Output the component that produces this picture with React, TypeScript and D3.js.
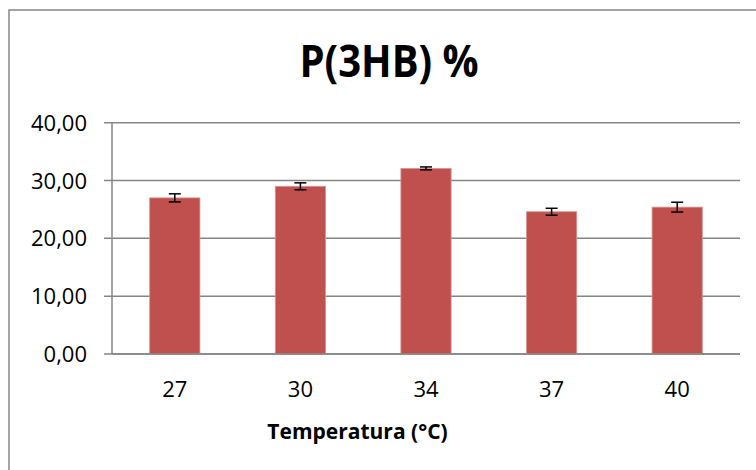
import React from "react";
import * as d3 from "d3";

const categories = ["27", "30", "34", "37", "40"];
const values = [27.0, 29.0, 32.1, 24.6, 25.4];
const errors = [0.7, 0.6, 0.25, 0.6, 0.85];
const yTicks = [0, 10, 20, 30, 40];
const title = "P(3HB) %";
const xTitle = "Temperatura (°C)";

const W = 756;
const H = 470;
const plot = { left: 112, right: 740, top: 122.7, bottom: 354 };

export default function App() {
  const x = d3
    .scaleBand<string>()
    .domain(categories)
    .range([plot.left, plot.right])
    .paddingInner(0.6)
    .paddingOuter(0.3);
  const y = d3.scaleLinear().domain([0, 40]).range([plot.bottom, plot.top]);
  const fmt = (v: number) => d3.format(".2f")(v).replace(".", ",");
  const font = "'Open Sans', sans-serif";
  const cap = 6;
  const titleX = 389;

  return (
    <svg
      width={W}
      height={H}
      style={{ position: "absolute", left: 0, top: 0, background: "#fff" }}
    >
      <rect x={0} y={0} width={W} height={H} fill="#fff" />
      <rect x={9} y={10} width={820} height={520} fill="none" stroke="#868686" strokeWidth={1.5} />
      <text
        x={0}
        y={0}
        transform={`translate(${titleX},77) scale(0.89,1)`}
        textAnchor="middle"
        fontFamily={font}
        fontWeight={700}
        fontSize={45}
        fill="#000"
      >
        {title}
      </text>
      {yTicks.map((t) => (
        <g key={t}>
          <line
            x1={plot.left - 8}
            x2={plot.right}
            y1={y(t)}
            y2={y(t)}
            stroke="#868686"
            strokeWidth={1.5}
          />
          <text
            x={87}
            y={y(t) + 8}
            textAnchor="end"
            fontFamily={font}
            fontSize={22}
            fill="#000"
          >
            {fmt(t)}
          </text>
        </g>
      ))}
      <line
        x1={plot.left}
        x2={plot.left}
        y1={plot.top}
        y2={plot.bottom}
        stroke="#868686"
        strokeWidth={1.5}
      />
      {categories.map((c, i) => {
        const bx = x(c)!;
        const bw = x.bandwidth();
        const cx = bx + bw / 2;
        const v = values[i];
        const e = errors[i];
        return (
          <g key={c}>
            <rect
              x={bx}
              y={y(v)}
              width={bw}
              height={plot.bottom - y(v)}
              fill="#C0504D"
              stroke="#D99694"
              strokeWidth={0.8}
            />
            <line x1={cx} x2={cx} y1={y(v + e)} y2={y(v - e)} stroke="#000" strokeWidth={1.5} />
            <line x1={cx - cap} x2={cx + cap} y1={y(v + e)} y2={y(v + e)} stroke="#000" strokeWidth={1.5} />
            <line x1={cx - cap} x2={cx + cap} y1={y(v - e)} y2={y(v - e)} stroke="#000" strokeWidth={1.5} />
            <text
              x={cx}
              y={397}
              textAnchor="middle"
              fontFamily={font}
              fontSize={22}
              fill="#000"
            >
              {c}
            </text>
          </g>
        );
      })}
      <line
        x1={plot.left}
        x2={plot.right}
        y1={plot.bottom}
        y2={plot.bottom}
        stroke="#868686"
        strokeWidth={1.5}
      />
      <text
        x={357.5}
        y={438.5}
        textAnchor="middle"
        fontFamily={font}
        fontWeight={700}
        fontSize={21}
        fill="#000"
      >
        {xTitle}
      </text>
    </svg>
  );
}
